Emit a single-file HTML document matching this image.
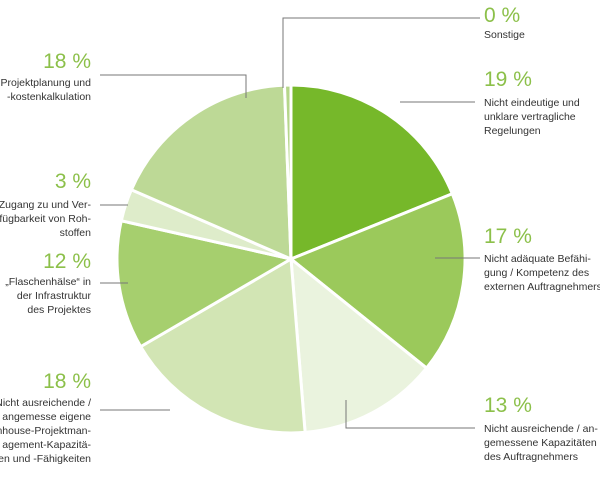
<!DOCTYPE html>
<html><head><meta charset="utf-8"><style>
body{margin:0;background:#fff;}
svg text{font-family:"Liberation Sans",sans-serif;}
.p{fill:#8cc04a;font-size:21px;}
.t{fill:#333;font-size:10.5px;}
</style></head><body>
<svg width="600" height="477">
<g id="slices"></g>
<g id="lab">
<polyline points="283,88 283,18 480,18" fill="none" stroke="#777"/>
<line x1="400" y1="102" x2="475" y2="102" stroke="#777"/>
<line x1="435" y1="258" x2="480" y2="258" stroke="#777"/>
<polyline points="346,400 346,428 475,428" fill="none" stroke="#777"/>
<line x1="100" y1="410" x2="170" y2="410" stroke="#777"/>
<line x1="100" y1="283" x2="128" y2="283" stroke="#777"/>
<line x1="100" y1="205" x2="128" y2="205" stroke="#777"/>
<polyline points="100,75 246,75 246,98" fill="none" stroke="#777"/>

<g><text class="p" x="484" y="22">0 %</text><text class="t" x="484" y="38">Sonstige</text></g>
<g><text class="p" x="484" y="86">19 %</text><text class="t" x="484" y="106">Nicht eindeutige und</text><text class="t" x="484" y="120">unklare vertragliche</text><text class="t" x="484" y="134">Regelungen</text></g>
<g><text class="p" x="484" y="243">17 %</text><text class="t" x="484" y="262">Nicht adäquate Befähi-</text><text class="t" x="484" y="276">gung / Kompetenz des</text><text class="t" x="484" y="290">externen Auftragnehmers</text></g>
<g><text class="p" x="484" y="412">13 %</text><text class="t" x="484" y="432">Nicht ausreichende / an-</text><text class="t" x="484" y="446">gemessene Kapazitäten</text><text class="t" x="484" y="460">des Auftragnehmers</text></g>
<g text-anchor="end">
<g><text class="p" x="91" y="68">18 %</text><text class="t" x="91" y="86">Projektplanung und</text><text class="t" x="91" y="100">-kostenkalkulation</text></g>
<g><text class="p" x="91" y="188">3 %</text><text class="t" x="91" y="208">Zugang zu und Ver-</text><text class="t" x="91" y="222">fügbarkeit von Roh-</text><text class="t" x="91" y="236">stoffen</text></g>
<g><text class="p" x="91" y="268">12 %</text><text class="t" x="91" y="285">„Flaschenhälse“ in</text><text class="t" x="91" y="299">der Infrastruktur</text><text class="t" x="91" y="313">des Projektes</text></g>
<g><text class="p" x="91" y="388">18 %</text><text class="t" x="91" y="406">Nicht ausreichende /</text><text class="t" x="91" y="420">angemesse eigene</text><text class="t" x="91" y="434">Inhouse-Projektman-</text><text class="t" x="91" y="448">agement-Kapazitä-</text><text class="t" x="91" y="462">ten und -Fähigkeiten</text></g>
</g>
</g>
</svg>
<script>
const categories=["Regelungen","Befaehigung","Kapazitaeten AN","Inhouse","Flaschenhaelse","Rohstoffe","Projektplanung","Sonstige"];
const values=[19,17,13,18,12,3,18,0.6];
const colors=["#76b82a","#9bc95b","#eaf3de","#d2e5b4","#a6cf6e","#deecca","#bdd996","#b5d68a"];
const cx=291,cy=259,r=174;
const g=document.getElementById('slices');
const total=values.reduce((a,b)=>a+b,0);
let a0=0;
function pt(a){return [cx+r*Math.sin(a),cy-r*Math.cos(a)];}
values.forEach((v,i)=>{
  const a1=a0+v/total*2*Math.PI;
  const p0=pt(a0),p1=pt(a1);
  const large=(a1-a0)>Math.PI?1:0;
  const p=document.createElementNS('http://www.w3.org/2000/svg','path');
  p.setAttribute('d',`M${cx},${cy}L${p0[0]},${p0[1]}A${r},${r} 0 ${large} 1 ${p1[0]},${p1[1]}Z`);
  p.setAttribute('fill',colors[i]);
  p.setAttribute('stroke','#fff');
  p.setAttribute('stroke-width','3');
  p.setAttribute('stroke-linejoin','round');
  
  
  g.appendChild(p);
  a0=a1;
});
</script>
</body></html>
